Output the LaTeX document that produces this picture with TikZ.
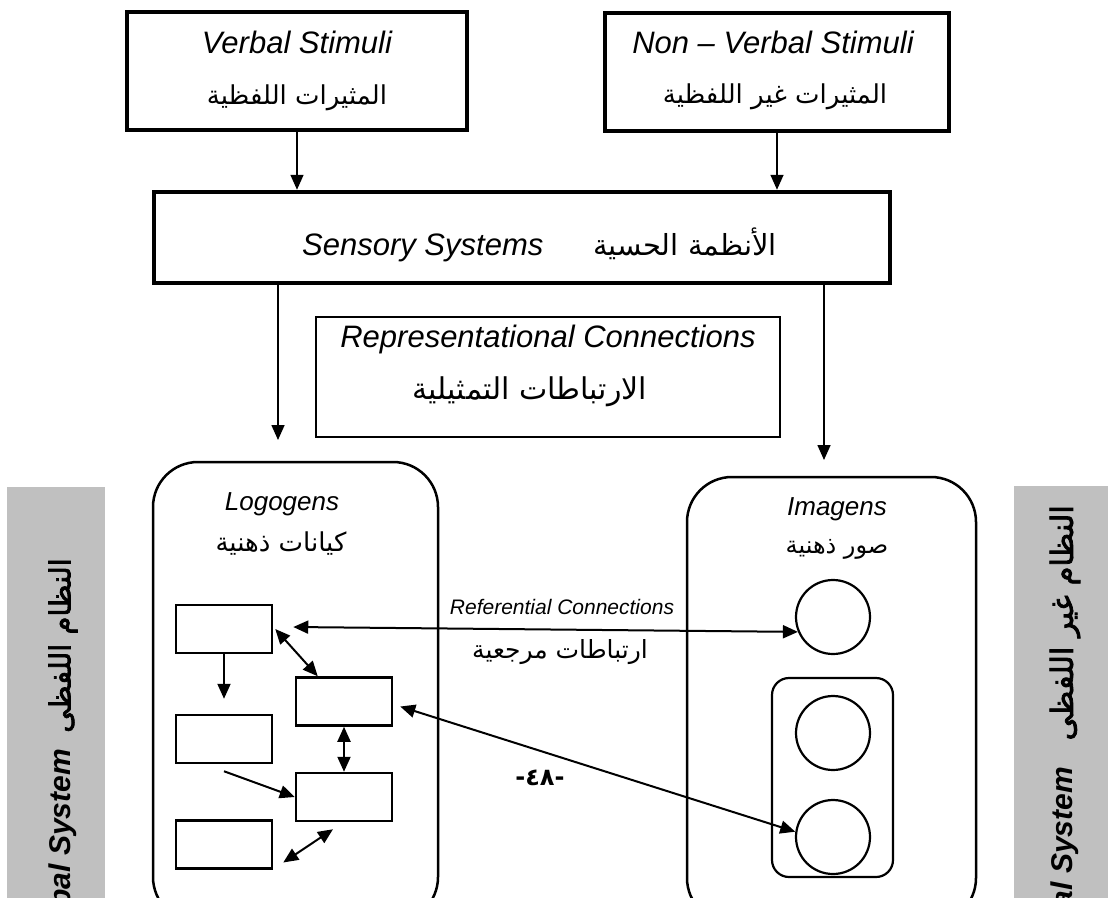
\documentclass[tikz,border=0pt]{standalone}
\usepackage{fontspec}
\setmainfont{Liberation Sans}
\newfontfamily\arabicfont[Script=Arabic]{DejaVu Sans}
\newfontfamily\arabicbold[Script=Arabic,FakeBold=2.5]{DejaVu Sans}
\newfontfamily\digitfont{DejaVu Sans}
\TeXXeTstate=1
\usetikzlibrary{arrows.meta}

\newcommand\ar[1]{{\arabicfont\beginR #1\endR}}
\newcommand\arb[1]{{\arabicbold\beginR #1\endR}}
\newcommand\bigit{\fontsize{31pt}{37pt}\selectfont\itshape}
\newcommand\arsize[1]{\fontsize{#1}{#1}\selectfont}
\newcommand\midit{\fontsize{26pt}{31pt}\selectfont\itshape}

\begin{document}
\begin{tikzpicture}[x=1pt,y=-1pt,
  thickbox/.style={draw,line width=4.5pt,inner sep=0pt},
  thinbox/.style={draw,line width=1.6pt,inner sep=0pt},
  roundbox/.style={draw,line width=2.5pt,rounded corners=45pt,inner sep=0pt},
  smallbox/.style={draw,line width=2.5pt,minimum width=96pt,minimum height=48pt,inner sep=0pt},
  ring/.style={draw,circle,line width=2.2pt,minimum size=74pt,inner sep=0pt},
  graybar/.style={fill=barGray,draw=none,inner sep=0pt},
  txt/.style={inner sep=0pt},
  bartxt/.style={inner sep=0pt,rotate=90,anchor=east},
  feed/.style={line width=1.6pt,-{Triangle[length=15pt,width=13pt]}},
  arr/.style={line width=2pt,-{Triangle[length=15pt,width=13pt]}},
  arrb/.style={line width=2pt,{Triangle[length=15pt,width=13pt]}-{Triangle[length=15pt,width=13pt]}}
]
\definecolor{barGray}{RGB}{192,192,192}
\useasboundingbox (0,0) rectangle (1108,897);
\clip (0,0) rectangle (1108,897);

% side bars with the names of the two systems
\node[graybar,minimum width=98pt,minimum height=440pt] (vbar) at (56,707) {};
\node[graybar,minimum width=94pt,minimum height=440pt] (nbar) at (1061,706) {};
\node[bartxt] (vbaren) at (63,749)
  {\fontsize{30pt}{36pt}\selectfont\bfseries\itshape Verbal System};
\node[bartxt] (vbarar) at (63,558) {\arsize{29pt}\arb{النظام اللفظى}};
\node[bartxt] (nbaren) at (1065,767)
  {\fontsize{30pt}{36pt}\selectfont\bfseries\itshape Non-Verbal System};
\node[bartxt] (nbarar) at (1065,505) {\arsize{30.5pt}\arb{النظام غير اللفظى}};

% stimuli
\node[thickbox,minimum width=340pt,minimum height=118pt] (vs) at (297,71) {};
\node[txt,anchor=base] (vsen) at (297,53) {\bigit Verbal Stimuli};
\node[txt] (vsar) at (297,98) {\arsize{26pt}\ar{المثيرات اللفظية}};

\node[thickbox,minimum width=344pt,minimum height=118pt] (nv) at (777,72) {};
\node[txt,anchor=base] (nven) at (773,53) {\bigit Non -- Verbal Stimuli};
\node[txt] (nvar) at (775,97) {\arsize{26pt}\ar{المثيرات غير اللفظية}};

% sensory systems
\node[thickbox,minimum width=736pt,minimum height=91pt] (sens) at (522,237.5) {};
\node[txt,anchor=base west] (sensen) at (302,255) {\bigit Sensory Systems};
\node[txt,anchor=base east] (sensar) at (777,255) {\arsize{29pt}\ar{الأنظمة الحسية}};

% representational connections
\node[thinbox,minimum width=464pt,minimum height=120pt] (rep) at (548,377) {};
\node[txt,anchor=base] (repen) at (548,347) {\bigit Representational Connections};
\node[txt] (repar) at (530,392) {\arsize{30pt}\ar{الارتباطات التمثيلية}};

% logogens
\node[roundbox,minimum width=285pt,minimum height=460pt] (logo) at (295.5,692) {};
\node[txt,anchor=base] (logoen) at (282,510) {\midit Logogens};
\node[txt] (logoar) at (281,544) {\arsize{26pt}\ar{كيانات ذهنية}};
\node[smallbox] (r1) at (224,629) {};
\node[smallbox] (r2) at (224,739) {};
\node[smallbox] (r3) at (224,844.5) {};
\node[smallbox] (r4) at (344,701.5) {};
\node[smallbox] (r5) at (344,797) {};

% imagens
\node[roundbox,minimum width=289pt,minimum height=446pt] (imag) at (831.5,700) {};
\node[txt,anchor=base] (imagen) at (837,515) {\midit Imagens};
\node[txt] (imagar) at (837,549) {\arsize{24pt}\ar{صور ذهنية}};
\node[draw,line width=2.2pt,rounded corners=17pt,minimum width=121pt,minimum height=199pt,inner sep=0pt] (grp) at (832.5,777.5) {};
\node[ring] (c1) at (833,617) {};
\node[ring] (c2) at (833,733) {};
\node[ring] (c3) at (833,837) {};

% referential connections
\node[txt,anchor=base] (refen) at (562,614) {\fontsize{21pt}{25pt}\selectfont\itshape Referential Connections};
\node[txt] (refar) at (560,652) {\arsize{25pt}\ar{ارتباطات مرجعية}};
\node[txt] (page) at (540,778) {\fontsize{24pt}{28pt}\selectfont\bfseries\digitfont -٤٨-};

% connectors
\draw[feed] (vs.south) -- (vs.south |- sens.north);
\draw[feed] (nv.south) -- (nv.south |- sens.north);
\coordinate (logoin) at (278,440);
\coordinate (imagin) at (824,460);
\draw[feed] (logoin |- sens.south) -- (logoin);
\draw[feed] (imagin |- sens.south) -- (imagin);

\draw[arr,shorten >=15pt] (r1.south) -- (r2.north);
\draw[arrb] ([xshift=2pt]r1.east) -- ([xshift=23pt]r4.north west);
\draw[arrb] (r4.south) -- (r5.north);
\draw[arr] ([yshift=-7pt]r2.south) -- (r5.west);
\draw[arrb] ([xshift=-11pt,yshift=-7pt]r5.south) -- ([xshift=10pt,yshift=-18pt]r3.east);

\draw[arrb] ([xshift=20pt,yshift=2pt]r1.east) -- (c1.203);
\draw[arrb] ([xshift=7pt,yshift=-5pt]r4.east) -- (c3.172);
\end{tikzpicture}
\end{document}
